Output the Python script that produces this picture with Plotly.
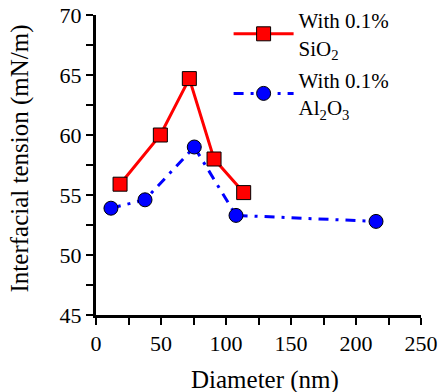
import plotly.graph_objects as go

sio2_x = [18.5, 49.5, 71.8, 90.8, 113.6]
sio2_y = [55.9, 60.0, 64.7, 58.0, 55.2]
al2o3_x = [11.5, 37.7, 75.6, 107.7, 215.4]
al2o3_y = [53.9, 54.6, 59.0, 53.3, 52.8]

font_family = "Liberation Serif"

fig = go.Figure()
fig.add_trace(go.Scatter(
    x=sio2_x, y=sio2_y, mode="lines+markers",
    name="With 0.1%<br>SiO<sub>2</sub>", legendgroup="a",
    line=dict(color="#ff0000", width=3),
    marker=dict(symbol="square", size=14, color="#ff0000", line=dict(color="black", width=1)),
))
fig.add_trace(go.Scatter(
    x=al2o3_x, y=al2o3_y, mode="lines+markers",
    name="With 0.1%<br>Al<sub>2</sub>O<sub>3</sub>", legendgroup="b",
    line=dict(color="#0000ff", width=3, dash="10px,7px,3px,7px"),
    marker=dict(symbol="circle", size=14, color="#0000ff", line=dict(color="black", width=1)),
))

axis_common = dict(
    showgrid=False, zeroline=False, showline=True, linecolor="black", linewidth=3,
    ticks="outside", tickcolor="black", tickwidth=2, ticklen=7,
    tickfont=dict(family=font_family, size=22, color="black"),
    mirror=False, automargin=False, ticklabeloverflow="allow",
)
fig.update_layout(
    width=440, height=392,
    margin=dict(l=96, r=19, t=15, b=77, autoexpand=False),
    plot_bgcolor="white", paper_bgcolor="white",
    font=dict(family=font_family, color="black"),
    xaxis=dict(range=[0, 250], dtick=50,
               minor=dict(dtick=25, ticks="outside", ticklen=7, tickwidth=2, tickcolor="black"),
               **axis_common),
    yaxis=dict(range=[45, 70], dtick=5,
               minor=dict(dtick=2.5, ticks="outside", ticklen=7, tickwidth=2, tickcolor="black"),
               **axis_common),
    legend=dict(x=0.408, y=1.05, xanchor="left", yanchor="top",
                bgcolor="rgba(0,0,0,0)", font=dict(family=font_family, size=21),
                itemwidth=60, tracegroupgap=2),
    showlegend=True,
    annotations=[
        dict(text="Diameter (nm)", xref="paper", yref="paper", x=0.52, y=-0.2167,
             xanchor="center", yanchor="middle", showarrow=False,
             font=dict(family=font_family, size=25, color="black")),
        dict(text="Interfacial tension (mN/m)", xref="paper", yref="paper", x=-0.2308, y=0.5217,
             xanchor="center", yanchor="middle", showarrow=False, textangle=-90,
             font=dict(family=font_family, size=25, color="black")),
    ],
)
fig.write_html("out.html", config={"displayModeBar": False},
               post_script="document.body.style.margin='0';document.body.style.overflow='hidden';")
